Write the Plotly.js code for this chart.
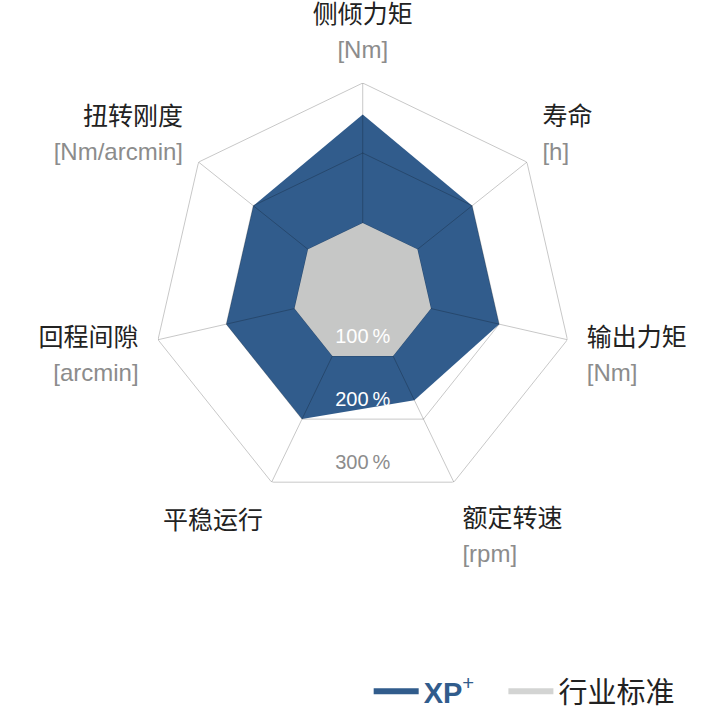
<!DOCTYPE html>
<html><head><meta charset="utf-8">
<script src="https://cdn.plot.ly/plotly-3.0.1.min.js"></script>
<style>html,body{margin:0;padding:0;background:#fff}</style>
</head><body><div id="chart" style="width:709px;height:717px"></div>
<script>
const categories = ['侧倾力矩', '寿命', '输出力矩', '额定转速', '平稳运行', '回程间隙', '扭转刚度'];
const units = ['[Nm]', '[h]', '[Nm]', '[rpm]', '', '[arcmin]', '[Nm/arcmin]'];
const xpValues = [255, 200, 200, 170, 200, 200, 200];
const industryValues = [100, 100, 100, 100, 100, 100, 100];
const ringValues = [100, 200, 300];
const ringLabels = ['100\u2009%', '200\u2009%', '300\u2009%'];
const ringLabelColors = ['#ffffff', '#ffffff', '#8c8c8c'];
const seriesNames = ['<span style="color:#315c8c"><b>XP</b><sup>+</sup></span>\u00a0\u00a0\u00a0', '行业标准'];

const BLUE = '#315c8c', GREY = '#c6c7c6', LEGEND_GREY = '#d3d4d3', GRID = 'rgba(0,0,0,0.22)';
const FONT = 'Liberation Sans, Arial, Noto Sans CJK SC, sans-serif';
const n = categories.length;
const angles = categories.map((_, i) => i * 360 / n);
const closeLoop = a => a.concat([a[0]]);
const rMax = Math.max(...ringValues);
const bottomAngle = 180;

const traces = [];
traces.push({type: 'scatterpolar', r: closeLoop(xpValues), theta: closeLoop(angles), mode: 'lines',
  fill: 'toself', fillcolor: BLUE, line: {width: 0, color: BLUE}, showlegend: false, hoverinfo: 'skip'});
ringValues.forEach(v => traces.push({type: 'scatterpolar', r: closeLoop(angles.map(() => v)), theta: closeLoop(angles),
  mode: 'lines', line: {color: GRID, width: 1}, showlegend: false, hoverinfo: 'skip'}));
const spokeR = [], spokeT = [];
angles.forEach(a => { spokeR.push(0, rMax, null); spokeT.push(a, a, null); });
traces.push({type: 'scatterpolar', r: spokeR, theta: spokeT, mode: 'lines', connectgaps: false,
  line: {color: GRID, width: 1}, showlegend: false, hoverinfo: 'skip'});
traces.push({type: 'scatterpolar', r: closeLoop(industryValues), theta: closeLoop(angles), mode: 'lines',
  fill: 'toself', fillcolor: GREY, line: {width: 0, color: GREY}, showlegend: false, hoverinfo: 'skip'});
traces.push({type: 'scatterpolar', mode: 'text',
  r: ringValues.map(v => v * Math.cos(Math.PI / n) - 12), theta: ringValues.map(() => bottomAngle),
  text: ringLabels, textposition: 'top center',
  textfont: {family: FONT, size: 20, color: ringLabelColors}, showlegend: false, hoverinfo: 'skip', cliponaxis: false});
traces.push({type: 'scatterpolar', r: [null], theta: [null], mode: 'lines', name: seriesNames[0],
  line: {color: BLUE, width: 6}, showlegend: true});
traces.push({type: 'scatterpolar', r: [null], theta: [null], mode: 'lines', name: seriesNames[1],
  line: {color: LEGEND_GREY, width: 6}, showlegend: true});

const tickText = categories.map((c, i) =>
  '<span style="font-size:25px;color:#222222">' + c + '</span>' +
  (units[i] ? '<br><span style="font-size:24px;color:#8c8c8c">' + units[i] + '</span>' : ''));

const layout = {
  width: 709, height: 717,
  margin: {l: 0, r: 0, t: 0, b: 0},
  paper_bgcolor: '#ffffff',
  font: {family: FONT, color: '#222222'},
  showlegend: true,
  legend: {orientation: 'h', x: 0.52, xanchor: 'left', y: 0, yanchor: 'bottom',
    itemwidth: 45,
    font: {family: FONT, size: 29, color: '#222222'}, bgcolor: 'rgba(0,0,0,0)'},
  polar: {
    domain: {x: [0.0416, 0.9816], y: [0.2985, 0.8842]},
    bgcolor: 'rgba(0,0,0,0)',
    radialaxis: {range: [0, rMax], visible: false, showgrid: false},
    angularaxis: {type: 'linear', thetaunit: 'degrees', rotation: 90, direction: 'clockwise',
      tickvals: angles, ticktext: tickText, showgrid: false, showline: false,
      ticks: 'outside', ticklen: 14, tickcolor: 'rgba(0,0,0,0)',
      tickfont: {family: FONT, size: 27, color: '#222222'}}
  }
};
Plotly.newPlot('chart', traces, layout, {staticPlot: true, displayModeBar: false});
</script></body></html>
